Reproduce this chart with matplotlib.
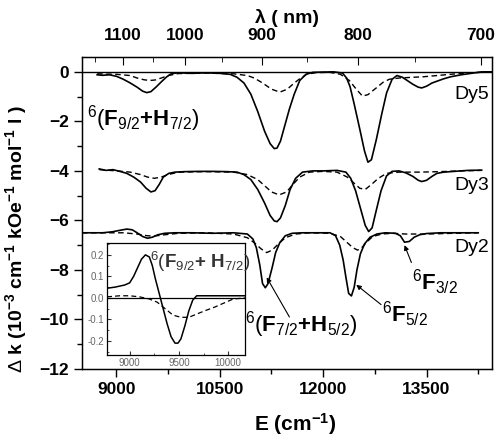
import matplotlib
matplotlib.use('Agg')

import matplotlib.pyplot as plt
from matplotlib.ticker import MultipleLocator

plt.rcParams['font.family'] = ['Liberation Sans', 'DejaVu Sans']
plt.rcParams['mathtext.fontset'] = 'custom'
plt.rcParams['mathtext.rm'] = 'Liberation Sans'
plt.rcParams['mathtext.it'] = 'Liberation Sans:italic'
plt.rcParams['mathtext.bf'] = 'Liberation Sans:bold'

# --- Dy5 (baseline 0) ---
dy5_E = [8720, 8800, 8900, 9000, 9100, 9200, 9300, 9380, 9440, 9500, 9580, 9660, 9730, 9800,
         9900, 10100, 10300, 10500, 10650, 10750, 10850, 10950, 11050, 11150, 11230, 11290,
         11330, 11380, 11450, 11510, 11580, 11660, 11750, 11850, 12000, 12150, 12280, 12340,
         12390, 12450, 12530, 12600, 12650, 12700, 12770, 12850, 12920, 13000, 13070, 13150,
         13220, 13300, 13380, 13430, 13500, 13580, 13650, 13750, 13850, 14000, 14150, 14300, 14440]
dy5_k = [-0.12, -0.14, -0.12, -0.18, -0.3, -0.45, -0.62, -0.78, -0.84, -0.8, -0.6, -0.38, -0.2, -0.07,
         -0.04, -0.06, -0.04, -0.06, -0.1, -0.22, -0.45, -0.9, -1.6, -2.4, -2.9, -3.1,
         -3.08, -2.8, -2.1, -1.5, -0.9, -0.35, -0.1, -0.02, -0.01, 0.0, -0.05, -0.25,
         -0.6, -1.3, -2.3, -3.2, -3.65, -3.55, -2.75, -1.7, -0.85, -0.3, -0.15, -0.22,
         -0.35, -0.5, -0.62, -0.65, -0.58, -0.45, -0.38, -0.28, -0.2, -0.12, -0.06, 0.0, 0.0]

dy5d_E = [8720, 9000, 9200, 9300, 9400, 9480, 9560, 9650, 9750, 9900, 10300, 10700, 10900, 11000,
          11120, 11250, 11370, 11480, 11560, 11650, 11760, 11900, 12100, 12250, 12380, 12480,
          12570, 12650, 12770, 12870, 12960, 13100, 13300, 13450, 13650, 13850, 14050, 14300, 14440]
dy5d_k = [-0.08, -0.1, -0.15, -0.25, -0.32, -0.35, -0.33, -0.25, -0.15, -0.07, -0.05, -0.08, -0.15, -0.25,
          -0.45, -0.7, -0.82, -0.7, -0.5, -0.3, -0.1, -0.03, -0.02, -0.1, -0.35, -0.7,
          -0.98, -0.92, -0.65, -0.42, -0.3, -0.25, -0.22, -0.2, -0.15, -0.1, -0.05, -0.02, 0.0]

# --- Dy3 (baseline -4) ---
dy3_E = [8750, 8850, 8950, 9050, 9150, 9250, 9350, 9430, 9500, 9560, 9620, 9680, 9760, 9850,
         10000, 10200, 10400, 10600, 10750, 10850, 10950, 11050, 11150, 11230, 11290, 11330,
         11380, 11450, 11520, 11600, 11700, 11850, 12000, 12200, 12330, 12400, 12470, 12540,
         12610, 12660, 12710, 12770, 12840, 12920, 13000, 13100, 13200, 13300, 13380, 13430,
         13500, 13580, 13650, 13750, 13900, 14100, 14300]
dy3_k = [-3.92, -3.98, -3.95, -4.02, -4.1, -4.25, -4.45, -4.7, -4.85, -4.8, -4.55, -4.25, -4.1, -4.05,
         -4.03, -4.02, -4.02, -4.03, -4.05, -4.15, -4.35, -4.75, -5.3, -5.8, -6.02, -6.05,
         -5.9, -5.4, -4.75, -4.3, -4.05, -4.0, -4.0, -3.98, -4.05, -4.3, -4.8, -5.5,
         -6.2, -6.45, -6.3, -5.6, -4.8, -4.2, -4.02, -4.0, -4.08, -4.22, -4.38, -4.43,
         -4.38, -4.22, -4.1, -4.05, -4.02, -3.98, -3.97]

dy3d_E = [8750, 9000, 9200, 9350, 9450, 9550, 9650, 9750, 9900, 10300, 10700, 10900, 11050,
          11150, 11250, 11360, 11470, 11560, 11660, 11800, 12000, 12200, 12350, 12450, 12530,
          12610, 12700, 12800, 12920, 13100, 13400, 13700, 14000, 14300]
dy3d_k = [-3.95, -4.0, -4.05, -4.15, -4.25, -4.3, -4.25, -4.15, -4.05, -4.03, -4.05, -4.15, -4.35,
          -4.6, -4.85, -4.97, -4.85, -4.55, -4.25, -4.05, -4.02, -4.05, -4.25, -4.5, -4.7,
          -4.75, -4.55, -4.3, -4.1, -4.05, -4.05, -4.03, -4.0, -3.98]

# --- Dy2 (baseline -6.5) ---
dy2_E = [8500, 8650, 8800, 8940, 9050, 9150, 9230, 9300, 9380, 9450, 9520, 9600, 9700, 9850,
         10100, 10400, 10700, 10900, 10980, 11030, 11080, 11120, 11160, 11200, 11260, 11310,
         11370, 11450, 11550, 11700, 11900, 12100, 12180, 12240, 12290, 12330, 12370, 12410,
         12450, 12490, 12540, 12600, 12680, 12780, 12900, 13050, 13120, 13180, 13250, 13320,
         13400, 13500, 13700, 13950, 14250]
dy2_k = [-6.5, -6.5, -6.5, -6.46, -6.4, -6.35, -6.38, -6.5, -6.65, -6.72, -6.68, -6.58, -6.52, -6.5,
         -6.5, -6.52, -6.5, -6.55, -6.75, -7.1, -7.8, -8.55, -8.72, -8.55, -7.9, -7.3,
         -6.9, -6.62, -6.52, -6.5, -6.5, -6.5, -6.62, -7.0, -7.6, -8.3, -8.95, -9.05,
         -8.7, -8.0, -7.35, -6.95, -6.68, -6.55, -6.5, -6.52, -6.62, -6.88, -6.85, -6.68,
         -6.58, -6.53, -6.5, -6.5, -6.5]

dy2d_E = [8500, 8800, 9100, 9300, 9450, 9550, 9700, 9900, 10300, 10700, 10900, 11000, 11100,
          11180, 11260, 11350, 11450, 11600, 11800, 12100, 12250, 12350, 12430, 12500, 12560,
          12640, 12720, 12850, 13000, 13200, 13500, 13900, 14250]
dy2d_k = [-6.5, -6.5, -6.5, -6.55, -6.62, -6.63, -6.58, -6.52, -6.5, -6.55, -6.7, -6.9, -7.15,
          -7.3, -7.2, -6.95, -6.7, -6.55, -6.5, -6.52, -6.65, -6.9, -7.1, -7.2, -7.1,
          -6.85, -6.65, -6.55, -6.52, -6.55, -6.55, -6.52, -6.5]

# --- inset: 6(F9/2+H7/2) band of Dy2, expanded ---
ins_E = [8770, 8850, 8950, 9000, 9040, 9080, 9120, 9160, 9200, 9230, 9260, 9300, 9340, 9380,
         9420, 9460, 9490, 9520, 9560, 9600, 9640, 9680, 9750, 9850, 9950, 10050, 10170]
ins_k = [0.045, 0.05, 0.06, 0.07, 0.1, 0.14, 0.18, 0.2, 0.19, 0.15, 0.09, 0.02, -0.05, -0.12,
         -0.18, -0.21, -0.21, -0.19, -0.13, -0.06, -0.01, 0.01, 0.01, 0.01, 0.01, 0.01, 0.01]
insd_E = [8770, 8900, 9000, 9100, 9200, 9280, 9360, 9440, 9520, 9600, 9680, 9760, 9850, 9950,
          10050, 10170]
insd_k = [0.005, 0.01, 0.01, 0.005, -0.005, -0.02, -0.05, -0.08, -0.09, -0.09, -0.075, -0.06, -0.045,
          -0.025, -0.005, 0.0]

lam_major = [1100, 1000, 900, 800, 700]
lam_minor = [1150, 1050, 950, 850, 750]

fig = plt.figure(figsize=(4.99, 4.40), dpi=100)
ax = fig.add_axes([0.1643, 0.1614, 0.8217, 0.7091])

dash = (0, (4, 2.5))
for E, k in [(dy5_E, dy5_k), (dy3_E, dy3_k), (dy2_E, dy2_k)]:
    ax.plot(E, k, color='black', lw=1.2)
for E, k in [(dy5d_E, dy5d_k), (dy3d_E, dy3d_k), (dy2d_E, dy2d_k)]:
    ax.plot(E, k, color='black', lw=1.0, linestyle=dash)
ax.axhline(0, color='black', lw=1.0)

ax.set_xlim(8500, 14450)
ax.set_ylim(-12, 0.6)
ax.set_xticks([9000, 10500, 12000, 13500])
ax.xaxis.set_minor_locator(MultipleLocator(750))
ax.set_yticks(range(-12, 1, 2))
ax.yaxis.set_minor_locator(MultipleLocator(1))
ax.tick_params(which='both', direction='out', top=False, right=False, width=1)
ax.tick_params(which='major', length=6, labelsize=12.5)
ax.tick_params(which='minor', length=3.5)
for lbl in ax.get_xticklabels() + ax.get_yticklabels():
    lbl.set_fontweight('bold')
for s in ax.spines.values():
    s.set_linewidth(1.0)

ax.set_xlabel('E (cm$^{\\mathbf{-1}}$)', fontsize=15, fontweight='bold')
ax.xaxis.set_label_coords(0.52, -0.135)
ax.set_ylabel('$\\Delta$ k (10$^{\\mathbf{-3}}$ cm$^{\\mathbf{-1}}$ kOe$^{\\mathbf{-1}}$ mol$^{\\mathbf{-1}}$ l )',
              fontsize=14, fontweight='bold')
ax.yaxis.set_label_coords(-0.13, 0.415)

# top wavelength axis
ax2 = ax.twiny()
ax2.set_xlim(ax.get_xlim())
ax2.set_xticks([1e7 / l for l in lam_major])
ax2.set_xticklabels([str(l) for l in lam_major], fontsize=12.5, fontweight='bold')
ax2.set_xticks([1e7 / l for l in lam_minor], minor=True)
ax2.tick_params(which='both', direction='in')
ax2.tick_params(which='major', length=6, pad=10)
ax2.tick_params(which='minor', length=3.5)
ax2.set_xlabel('λ ( nm)', fontsize=14, fontweight='bold', labelpad=4)

# labels
ax.text(14150, -0.92, 'Dy5', fontsize=14, ha='center', va='center')
ax.text(14150, -4.57, 'Dy3', fontsize=14, ha='center', va='center')
ax.text(14150, -7.1, 'Dy2', fontsize=14, ha='center', va='center')
ax.text(8580, -1.9, r'$^{6}(\mathbf{F}_{9/2}\mathbf{+H}_{7/2})$', fontsize=16, va='center')
ax.text(10860, -10.2, r'$^{6}(\mathbf{F}_{7/2}\mathbf{+H}_{5/2})$', fontsize=16, va='center')
ax.text(12860, -9.8, r'$^{6}\mathbf{F}_{5/2}$', fontsize=16, va='center')
ax.text(13290, -8.5, r'$^{6}\mathbf{F}_{3/2}$', fontsize=16, va='center')

arrow = dict(arrowstyle='-|>', color='black', lw=0.8, mutation_scale=7, shrinkA=0, shrinkB=0)
ax.annotate('', xy=(11180, -8.3), xytext=(11510, -9.9), arrowprops=arrow)
ax.annotate('', xy=(12480, -8.6), xytext=(12840, -9.4), arrowprops=arrow)
ax.annotate('', xy=(13180, -7.0), xytext=(13280, -7.7), arrowprops=arrow)

# inset
axi = fig.add_axes([0.2144, 0.1932, 0.2766, 0.2545])
axi.plot(ins_E, ins_k, color='black', lw=1.1)
axi.plot(insd_E, insd_k, color='black', lw=0.9, linestyle=dash)
axi.axhline(0, color='black', lw=0.9)
axi.set_xlim(8770, 10170)
axi.set_ylim(-0.265, 0.255)
axi.set_xticks([9000, 9500, 10000])
axi.xaxis.set_minor_locator(MultipleLocator(250))
axi.set_yticks([-0.2, -0.1, 0.0, 0.1, 0.2])
axi.set_yticklabels(['-0.2', '-0.1', '0.0', '0.1', '0.2'])
axi.yaxis.set_minor_locator(MultipleLocator(0.05))
axi.tick_params(which='both', direction='in', labelsize=7, labelcolor='#666666', color='#333333')
axi.tick_params(which='major', length=3, pad=2)
axi.tick_params(which='minor', length=1.5)
for s in axi.spines.values():
    s.set_linewidth(0.9)
axi.text(9210, 0.165, r'$^{6}(\mathbf{F}_{9/2}\mathbf{+\ H}_{7/2})$', fontsize=13.5, color='#333333', va='center')

fig.savefig('out.png', dpi=100)
